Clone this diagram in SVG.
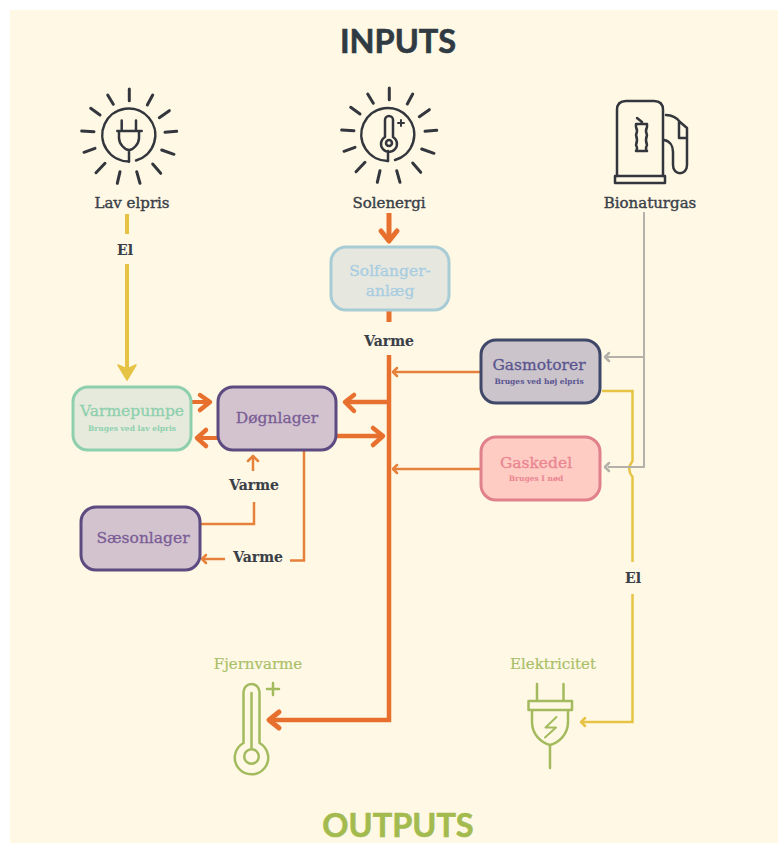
<svg xmlns="http://www.w3.org/2000/svg" width="778" height="843" viewBox="0 0 778 843">
<style>
text{font-family:"DejaVu Serif","Liberation Serif",serif;text-anchor:middle}
.lb{font-size:15px;font-weight:400;fill:#3a4048;stroke:#3a4048;stroke-width:.4px}
.vb{font-size:14px;font-weight:700;stroke-width:.1px}
.t{font-family:Lato,"Open Sans",sans-serif;font-weight:700;font-size:32.500px;stroke-width:.6px}
.nt{font-size:15.500px;stroke-width:.3px}
.st{font-size:7.500px;font-weight:700}
.i{fill:none;stroke:#33373d;stroke-width:2.500px;stroke-linecap:round;stroke-linejoin:round}
.g{fill:none;stroke:#a3bb5e;stroke-width:2.500px;stroke-linecap:round;stroke-linejoin:round}
.n{stroke-width:3px}
.c{fill:none}
.o{stroke:#e8702e}.o2{stroke:#e5813a}.y{stroke:#e6c345}.a{stroke:#b3b1a9}
.hd{fill:none;stroke-linecap:round;stroke-linejoin:round}
.gt{font-size:15px;fill:#a9c068;stroke:#a9c068;stroke-width:.2px}
</style>
<defs>
<g id="rays">
<path d="M.3-46V-34.300M-21.300-40-15.700-30.700M18.300-30 23.700-40M-38.300-26.700-29-20M30.300-17.300 40.300-24.300M-47.300-4-35-3.300M36-2.700 47.700-3.700M-45 17.300-34 13.300M32.700 15 45 19.300M-33 37.700-24 28.300M23.700 29 31.700 38.300M-11.700 48.300-9 36.700M7.700 36.700 11 48.300" stroke-width="3"/>
</g>
</defs>
<rect width="778" height="843" fill="#ffffff"/>
<rect x="10" y="10" width="768" height="833" fill="#fff8e4"/>
<text class="t" x="398" y="53" fill="#2f3a42" stroke="#2f3a42">INPUTS</text>
<text class="t" x="398" y="837" fill="#a3bb4e" stroke="#a3bb4e">OUTPUTS</text>

<g id="connectors">
<g class="c o">
<path d="M389 300V322" stroke-width="5"/>
<path d="M389 355V720H270" stroke-width="4.500"/>
<path d="M389 213V240" stroke-width="5"/>
<path class="hd" d="M381 231 389 241 397 231" stroke-width="5"/>
<path class="hd" d="M279 712 269 720 279 728" stroke-width="5"/>
<path d="M387 402H346" stroke-width="4.500"/>
<path class="hd" d="M354 395 345 402 354 411" stroke-width="4.500"/>
<path d="M336 436H382" stroke-width="4.500"/>
<path class="hd" d="M373 428 383 436 373 445" stroke-width="4.500"/>
<path d="M192 402H208" stroke-width="4"/>
<path class="hd" d="M200 395 210 402 200 410" stroke-width="4.500"/>
<path d="M218 438H199" stroke-width="4"/>
<path class="hd" d="M206 430 197 438 206 446" stroke-width="4.500"/>
</g>
<g class="c o2">
<path d="M480 372H394" stroke-width="2.500"/>
<path class="hd" d="M397 368 393 372 397 376" stroke-width="2.500"/>
<path d="M480 469H394" stroke-width="2.500"/>
<path class="hd" d="M397 465 393 469 397 473" stroke-width="2.500"/>
<path d="M201 524H254V502" stroke-width="2.500"/>
<path d="M253 471V456" stroke-width="2.500"/>
<path class="hd" d="M248 461 253 456 258 461" stroke-width="2.500"/>
<path d="M304 450V560.500H290" stroke-width="2.500"/>
<path d="M225 559H202" stroke-width="2.500"/>
<path class="hd" d="M206 555 202 559 206 563" stroke-width="2.500"/>
</g>
<g class="c y">
<path d="M127 214V234" stroke-width="4"/>
<path d="M127 264V374" stroke-width="4"/>
<path d="M118 365 127 380 136 365 127 369Z" style="fill:#e6c345;stroke:#e6c345;stroke-linejoin:round" stroke-width="1.500"/>
<path d="M602 391H632.500V461Q626 469 632.500 477V562" stroke-width="2.500"/>
<path d="M632.500 594V722H582" stroke-width="2.500"/>
<path class="hd" d="M585 718 581 722 585 726" stroke-width="2.500"/>
</g>
<g class="c a">
<path d="M644 212V467H608" stroke-width="2"/>
<path d="M644 357H606" stroke-width="2"/>
<path class="hd" d="M609 353 605 357 609 361" stroke-width="2.500"/>
<path class="hd" d="M609 463 605 467 609 471" stroke-width="2.500"/>
</g>
</g>

<g id="node-lav-elpris">
<g class="i" transform="translate(129,135)"><use href="#rays"/>
<path d="M0 26.500A26.500 26.500 0 1 1 7 25.500"/>
<path d="M-7.300-14.500V-4M7-14.500V-4M-11.700-4H12.700M-10-4V3C-10 9-4 15 0 15 4 15 10 9 10 3V-4M0 15V26.500"/>
</g>
<text class="lb" x="132" y="208">Lav elpris</text>
</g>
<g id="node-solenergi">
<g class="i" transform="translate(389,134)"><use href="#rays"/>
<path d="M-1 27A26.500 26.500 0 1 1 6 26"/>
<path d="M-4-9V3A8 8 0 1 0 4 3V-14A4 4 0 0 0-4-14ZM-1 17V27"/>
<circle cx="0" cy="9" r="3"/>
<path d="M9-11H15M12-14V-8" stroke-width="2"/>
</g>
<text class="lb" x="389" y="208">Solenergi</text>
</g>
<g id="node-bionaturgas">
<g class="i">
<path d="M617 176V110Q617 101 626 101H654Q663 101 663 110V176"/>
<path d="M615 176H665V183H615Z"/>
<path d="M666 115C672 115 677 118 680 122L687 128V138H679V122M687 138V165C687 176 673 176 673 165V152C673 146 670 141 664 140"/>
<path d="M637 118 642 122M636 124H647V127Q645 131 647 135Q645 140 647 145 645 149 647 151H636Q638 149 636 145 638 140 636 135 638 131 636 127Z" stroke-width="2.500"/>
</g>
<text class="lb" x="650" y="208">Bionaturgas</text>
</g>
<g id="node-solfanger">
<rect class="n" x="331" y="247" width="118" height="63" rx="15" fill="#e6e8e0" stroke="#a7ccd6"/>
<text class="nt" x="390" y="276" fill="#a8cde0" stroke="#a8cde0">Solfanger-</text>
<text class="nt" x="390" y="296" fill="#a8cde0" stroke="#a8cde0">anlæg</text>
</g>
<g id="node-varmepumpe">
<rect class="n" x="73" y="387" width="118" height="63" rx="15" fill="#e6eadc" stroke="#8ed0ae"/>
<text class="nt" x="132" y="416" fill="#8ed0ae" stroke="#8ed0ae">Varmepumpe</text>
<text class="st" x="132" y="431" fill="#8ed0ae">Bruges ved lav elpris</text>
</g>
<g id="node-dognlager">
<rect class="n" x="218" y="387" width="118" height="63" rx="15" fill="#d2c3cf" stroke="#5d4a80"/>
<text class="nt" x="277" y="423" fill="#7b5d96" stroke="#7b5d96">Døgnlager</text>
</g>
<g id="node-saesonlager">
<rect class="n" x="81" y="507" width="119" height="63" rx="15" fill="#d2c3cf" stroke="#5d4a80"/>
<text class="nt" x="143" y="543" fill="#7b5d96" stroke="#7b5d96">Sæsonlager</text>
</g>
<g id="node-gasmotorer">
<rect class="n" x="481" y="340" width="119" height="63" rx="15" fill="#cbc4cb" stroke="#3f4868"/>
<text class="nt" x="539" y="370" fill="#5a5590" stroke="#5a5590">Gasmotorer</text>
<text class="st" x="539" y="384" fill="#5a5590">Bruges ved høj elpris</text>
</g>
<g id="node-gaskedel">
<rect class="n" x="481" y="437" width="119" height="63" rx="15" fill="#ffccc4" stroke="#e0808a"/>
<text class="nt" x="536" y="468" fill="#ea8590" stroke="#ea8590">Gaskedel</text>
<text class="st" x="536" y="481" fill="#ea8590">Bruges I nød</text>
</g>
<g id="node-fjernvarme">
<text class="gt" x="258" y="669">Fjernvarme</text>
<g class="g">
<path d="M243.500 743V692A8 8 0 0 1 259.500 692V743A16.700 16.700 0 1 1 243.500 743Z"/>
<path d="M251.500 693V748"/>
<circle cx="251.500" cy="756.500" r="7.300"/>
<path d="M267 689H279M273 683V695"/>
</g>
</g>
<g id="node-elektricitet">
<text class="gt" x="553" y="669">Elektricitet</text>
<g class="g">
<path d="M537 684V700M563.500 684V700M528.500 701H572V710H528.500ZM532 710V722C532 735 542 743 550 745 558 743 568 735 568 722V710M550 746V768"/>
<path d="M556.500 717 545.500 727.500H556L545 737.500" stroke-width="2"/>
</g>
</g>
<g id="labels">
<text class="lb vb" x="125" y="255">El</text>
<text class="lb vb" x="389" y="346">Varme</text>
<text class="lb vb" x="254" y="490">Varme</text>
<text class="lb vb" x="258" y="562">Varme</text>
<text class="lb vb" x="633" y="583">El</text>
</g>
</svg>
